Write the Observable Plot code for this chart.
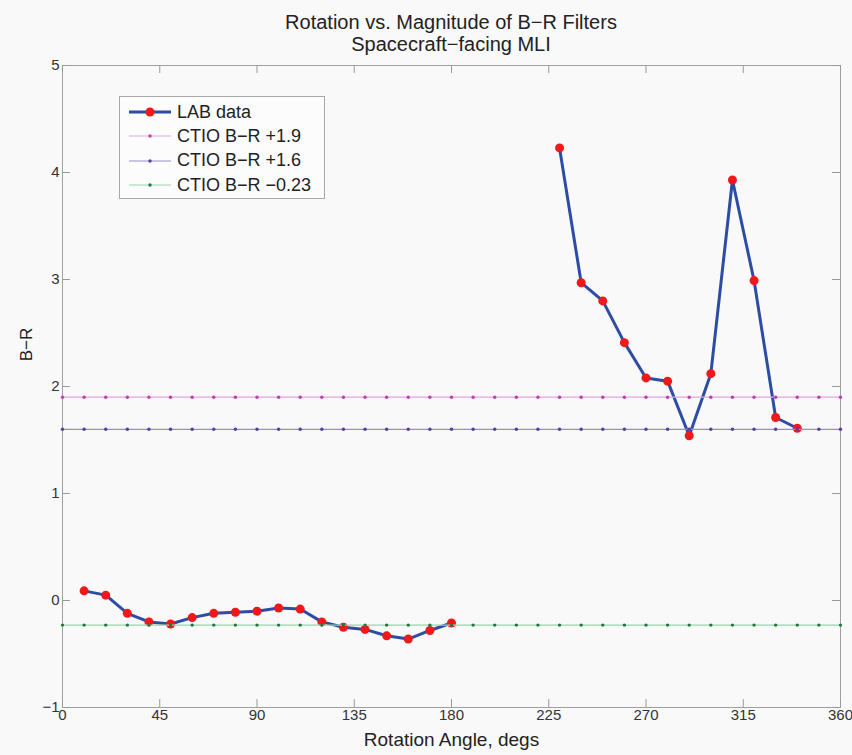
<!DOCTYPE html>
<html>
<head>
<meta charset="utf-8">
<script src="https://cdn.jsdelivr.net/npm/d3@7"></script>
<script src="https://cdn.jsdelivr.net/npm/@observablehq/plot@0.6"></script>
<style>
  html, body { margin: 0; padding: 0; background: #f9f9f9; }
  #wrap { position: relative; width: 852px; height: 755px; font-family: "Liberation Sans", Arial, sans-serif; }
  #title { height: 55px; box-sizing: border-box; padding-top: 11px; margin-left: 62px; width: 778px; text-align: center; color: #222; font-size: 20px; line-height: 22px; white-space: nowrap; }
  #legend { position: absolute; left: 119px; top: 96px; width: 206px; height: 103px; box-sizing: border-box; border: 1px solid #a8a8a8; background: #fcfcfc; padding-top: 3px; }
  .row { height: 24.3px; display: flex; align-items: center; font-size: 18px; color: #222; }
  .row svg { margin-left: 9px; margin-right: 6px; }
</style>
</head>
<body>
<div id="wrap">
  <div id="title">Rotation vs. Magnitude of B−R Filters<br>Spacecraft−facing MLI</div>
  <div id="chart"></div>
  <div id="legend"></div>
</div>
<script>
// ---- data ----
const leftAngles = [10, 20, 30, 40, 50, 60, 70, 80, 90, 100, 110, 120, 130, 140, 150, 160, 170, 180];
const leftValues = [0.09, 0.05, -0.12, -0.20, -0.22, -0.16, -0.12, -0.11, -0.10, -0.07, -0.08, -0.20, -0.25, -0.27, -0.33, -0.36, -0.28, -0.21];
const rightAngles = [230, 240, 250, 260, 270, 280, 290, 300, 310, 320, 330, 340];
const rightValues = [4.23, 2.97, 2.80, 2.41, 2.08, 2.05, 1.54, 2.12, 3.93, 2.99, 1.71, 1.61];

const ctioLevels = [1.9, 1.6, -0.23];
const ctioLabels = ["CTIO B−R +1.9", "CTIO B−R +1.6", "CTIO B−R −0.23"];
const ctioLineColors = ["#e2a6e2", "#9a8ccc", "#98d4ac"];
const ctioDotColors = ["#c03cb4", "#5a3c9c", "#1e7a3c"];
const ctioAngles = [0, 10, 20, 30, 40, 50, 60, 70, 80, 90, 100, 110, 120, 130, 140, 150, 160, 170, 180,
  190, 200, 210, 220, 230, 240, 250, 260, 270, 280, 290, 300, 310, 320, 330, 340, 350, 360];

const xTicks = [0, 45, 90, 135, 180, 225, 270, 315, 360];
const yTicks = [-1, 0, 1, 2, 3, 4, 5];

const labLabel = "LAB data";
const labLine = "#2c4da3";
const labDot = "#f01818";
const xLabel = "Rotation Angle, degs";
const yLabel = "B−R";

// ---- tables ----
const labData = [
  ...leftAngles.map((a, i) => ({angle: a, value: leftValues[i], seg: "a"})),
  ...rightAngles.map((a, i) => ({angle: a, value: rightValues[i], seg: "b"}))
];
const ctioDots = [];
ctioLevels.forEach((lv, k) => ctioAngles.forEach(a => ctioDots.push({angle: a, value: lv, k})));

const W = 852, H = 700, mT = 10, mB = 48, mL = 62, mR = 12;
const frameH = H - mT - mB, frameW = W - mL - mR;
const font = "Liberation Sans, Arial, sans-serif";

const chart = Plot.plot({
  width: W, height: H,
  marginTop: mT, marginBottom: mB, marginLeft: mL, marginRight: mR,
  style: {background: "transparent", fontFamily: font},
  x: {domain: [0, 360], axis: null},
  y: {domain: [-1, 5], axis: null},
  marks: [
    Plot.frame({stroke: "#a0a0a0"}),
    Plot.tickX(xTicks, {x: d => d, insetTop: frameH - 8, stroke: "#999"}),
    Plot.tickX(xTicks, {x: d => d, insetBottom: frameH - 8, stroke: "#999"}),
    Plot.tickY(yTicks, {y: d => d, insetRight: frameW - 8, stroke: "#999"}),
    Plot.tickY(yTicks, {y: d => d, insetLeft: frameW - 8, stroke: "#999"}),
    Plot.text(xTicks, {x: d => d, frameAnchor: "bottom", dy: 8, fontSize: 15, fill: "#333", text: d => String(d), textAnchor: "middle", lineAnchor: "middle"}),
    Plot.text(yTicks, {y: d => d, frameAnchor: "left", dx: -3, fontSize: 15, fill: "#333", text: d => d < 0 ? "−" + Math.abs(d) : String(d), textAnchor: "end", lineAnchor: "middle"}),
    Plot.text([xLabel], {frameAnchor: "bottom", dy: 32, fontSize: 19, fill: "#222", textAnchor: "middle", lineAnchor: "middle"}),
    Plot.text([yLabel], {frameAnchor: "left", dx: -36, dy: -42, rotate: -90, fontSize: 17, fill: "#222", textAnchor: "middle", lineAnchor: "middle"}),
    Plot.line(labData, {x: "angle", y: "value", z: "seg", stroke: labLine, strokeWidth: 3}),
    Plot.dot(labData, {x: "angle", y: "value", r: 4.5, fill: labDot, stroke: "none"}),
    Plot.ruleY(ctioLevels, {y: d => d, stroke: (d, i) => ctioLineColors[i], strokeWidth: 1.2}),
    Plot.dot(ctioDots, {x: "angle", y: "value", r: 1.7, fill: d => ctioDotColors[d.k], stroke: "none"})
  ]
});
document.getElementById("chart").appendChild(chart);

// ---- legend ----
const legend = document.getElementById("legend");
const rows = [
  {label: labLabel, line: labLine, lw: 3, dot: labDot, r: 4.5},
  ...ctioLabels.map((l, i) => ({label: l, line: ctioLineColors[i], lw: 1.2, dot: ctioDotColors[i], r: 1.7}))
];
rows.forEach(rw => {
  const div = document.createElement("div");
  div.className = "row";
  div.innerHTML = `<svg width="42" height="12"><line x1="0" x2="42" y1="6" y2="6" stroke="${rw.line}" stroke-width="${rw.lw}"/><circle cx="21" cy="6" r="${rw.r}" fill="${rw.dot}"/></svg><span>${rw.label}</span>`;
  legend.appendChild(div);
});
</script>
</body>
</html>
